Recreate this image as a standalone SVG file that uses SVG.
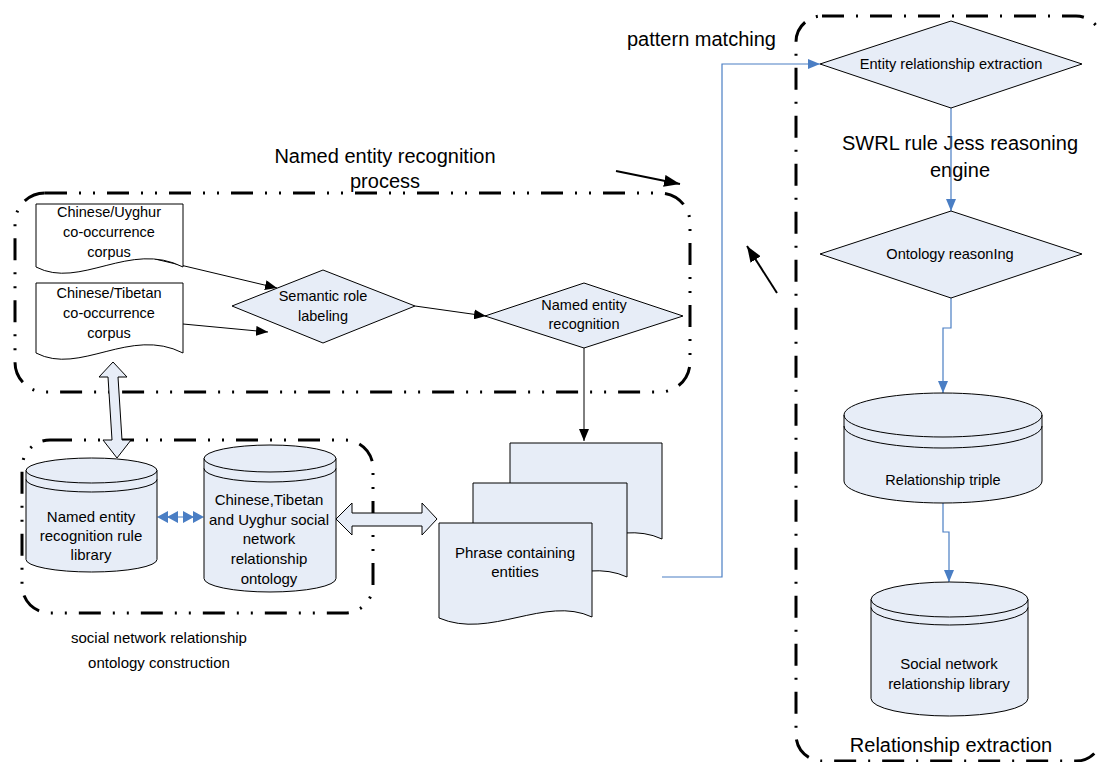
<svg xmlns="http://www.w3.org/2000/svg" width="1097" height="762" viewBox="0 0 1097 762">
  <defs>
    <style>
      text { font-family: "Liberation Sans", Arial, sans-serif; fill: #000; text-anchor: middle; }
      .n { font-size: 14.5px; }
      .t { font-size: 20px; }
      .shape { fill: #E7EDF7; stroke: #000; stroke-width: 1; }
      .paper { fill: #fff; stroke: #000; stroke-width: 1; }
      .line { fill: none; stroke: #000; stroke-width: 1; }
      .blue { fill: none; stroke: #4A7EC4; stroke-width: 1.2; }
      .grp2 { fill: none; stroke: #000; stroke-width: 3; stroke-dasharray: 22 12 2 12 2 12; }
      .grp1 { fill: none; stroke: #000; stroke-width: 3; stroke-dasharray: 22 12 2 12; }
    </style>
    <marker id="ah" viewBox="0 0 12 10" refX="12" refY="5" markerWidth="12" markerHeight="10" markerUnits="userSpaceOnUse" orient="auto">
      <path d="M0,0 L12,5 L0,10 Z" fill="#000"/>
    </marker>
    <marker id="ahb" viewBox="0 0 12 10" refX="12" refY="5" markerWidth="12" markerHeight="12" markerUnits="userSpaceOnUse" orient="auto">
      <path d="M0,0 L12,5 L0,10 Z" fill="#4A7EC4"/>
    </marker>
    <marker id="ahbig" viewBox="0 0 16 12" refX="16" refY="6" markerWidth="16" markerHeight="12" markerUnits="userSpaceOnUse" orient="auto">
      <path d="M0,0 L16,6 L0,12 Z" fill="#000"/>
    </marker>
  </defs>

  <!-- group frames -->
  <g id="frames">
    <rect x="15" y="193" width="675" height="199" rx="30" class="grp2"/>
    <rect x="22" y="440" width="351" height="173" rx="28" class="grp2"/>
    <rect x="796" y="16" width="306" height="745" rx="26" class="grp1"/>
  </g>

  <!-- titles -->
  <g id="labels">
    <text class="t" x="385" y="163">Named entity recognition</text>
    <text class="t" x="385" y="188">process</text>
    <text class="t" x="627" y="46" style="text-anchor:start">pattern matching</text>
    <text x="960" y="150" style="font-size:20px">SWRL rule Jess reasoning</text>
    <text x="960" y="177" style="font-size:20px">engine</text>
    <text x="159" y="643" style="font-size:15px">social network relationship</text>
    <text x="159" y="668" style="font-size:15px">ontology construction</text>
    <text x="951" y="752" style="font-size:20px">Relationship extraction</text>
  </g>

  <!-- connectors -->
  <g id="connectors">
    <line x1="155" y1="259" x2="277" y2="288" class="line" marker-end="url(#ah)"/>
    <line x1="183" y1="324" x2="268" y2="332" class="line" marker-end="url(#ah)"/>
    <line x1="415" y1="306" x2="486" y2="316" class="line" marker-end="url(#ah)"/>
    <line x1="584" y1="348" x2="584" y2="441" class="line" marker-end="url(#ah)"/>
    <polyline points="662,577 722,577 722,64 820,64" class="blue" marker-end="url(#ahb)"/>
    <line x1="951" y1="108" x2="951" y2="211" class="blue" marker-end="url(#ahb)"/>
    <polyline points="951,298 951,328 943,328 943,393" class="blue" marker-end="url(#ahb)"/>
    <polyline points="943,503 943,532 949,532 949,582" class="blue" marker-end="url(#ahb)"/>
    <!-- double blue link between rule library and ontology -->
    <line x1="160" y1="517" x2="202" y2="517" stroke="#4A7EC4" stroke-width="1.2"/>
    <path d="M157,517 L168,511 L168,523 Z M167,517 L178,511 L178,523 Z M204,517 L193,511 L193,523 Z M194,517 L183,511 L183,523 Z" fill="#4A7EC4"/>
    <!-- block double arrows -->
    <polygon points="113,362 127,377 118,377 122,440 131,440 117,458 103,440 112,440 108,377 99,377" class="shape"/>
    <polygon points="336,519 352,503 352,513 422,513 422,503 437,519 422,535 422,526 352,526 352,535" class="shape"/>
    <!-- free arrows -->
    <line x1="616" y1="171" x2="680" y2="184" stroke="#000" stroke-width="2" marker-end="url(#ahbig)"/>
    <line x1="777" y1="293" x2="747" y2="246" stroke="#000" stroke-width="2" marker-end="url(#ahbig)"/>
  </g>

  <!-- corpora -->
  <g id="corpus-uyghur">
    <path d="M36,204 H183 V267 C130,240 80,290 36,267 Z" class="paper"/>
    <text class="n" x="109" y="217">Chinese/Uyghur</text>
    <text class="n" x="109" y="237">co-occurrence</text>
    <text class="n" x="109" y="257">corpus</text>
  </g>
  <g id="corpus-tibetan">
    <path d="M36,283 H183 V353 C130,326 80,376 36,353 Z" class="paper"/>
    <text class="n" x="109" y="298">Chinese/Tibetan</text>
    <text class="n" x="109" y="318">co-occurrence</text>
    <text class="n" x="109" y="338">corpus</text>
  </g>

  <g id="semantic-role-labeling">
    <polygon points="232,306 323,270 415,306 323,343" class="shape"/>
    <text class="n" x="323" y="301">Semantic role</text>
    <text class="n" x="323" y="321">labeling</text>
  </g>

  <g id="named-entity-recognition">
    <polygon points="485,316 584,283 683,316 584,348" class="shape"/>
    <text class="n" x="584" y="310">Named entity</text>
    <text class="n" x="584" y="329">recognition</text>
  </g>

  <g id="phrases">
    <path d="M510,443 H662 V539 C615,517 561,562 510,539 Z" class="shape"/>
    <path d="M473,483 H627 V577 C580,555 525,600 473,578 Z" class="shape"/>
    <path d="M439,523 H592 V617 C545,595 490,640 439,618 Z" class="shape"/>
    <text x="515" y="558" style="font-size:15px">Phrase containing</text>
    <text x="515" y="577" style="font-size:15px">entities</text>
  </g>

  <g id="rule-library">
    <path d="M26,470.5 A65.5,12.5 0 0 1 157,470.5 V559.5 A65.5,12.5 0 0 1 26,559.5 Z" class="shape"/>
    <path d="M26,470.5 A65.5,12.5 0 0 0 157,470.5 M26,479.5 A65.5,12.5 0 0 0 157,479.5" class="line"/>
    <text x="91" y="522" style="font-size:15px">Named entity</text>
    <text x="91" y="541" style="font-size:15px">recognition rule</text>
    <text x="91" y="560" style="font-size:15px">library</text>
  </g>

  <g id="ontology">
    <path d="M204,458.5 A66,13.5 0 0 1 336,458.5 V578.5 A66,13.5 0 0 1 204,578.5 Z" class="shape"/>
    <path d="M204,458.5 A66,13.5 0 0 0 336,458.5 M204,468.5 A66,13.5 0 0 0 336,468.5" class="line"/>
    <text x="269" y="505" style="font-size:15px">Chinese,Tibetan</text>
    <text x="269" y="525" style="font-size:15px">and Uyghur social</text>
    <text x="269" y="544" style="font-size:15px">network</text>
    <text x="269" y="564" style="font-size:15px">relationship</text>
    <text x="269" y="584" style="font-size:15px">ontology</text>
  </g>

  <g id="entity-relationship-extraction">
    <polygon points="820,64 951,21 1082,64 951,108" class="shape"/>
    <text x="951" y="69" style="font-size:14.6px">Entity relationship extraction</text>
  </g>

  <g id="ontology-reasoning">
    <polygon points="820,254 951,211 1082,254 951,298" class="shape"/>
    <text x="950" y="259" style="font-size:14.6px">Ontology reasonIng</text>
  </g>

  <g id="relationship-triple">
    <path d="M844,415 A99,22 0 0 1 1042,415 V481 A99,22 0 0 1 844,481 Z" class="shape"/>
    <path d="M844,415 A99,22 0 0 0 1042,415 M844,426 A99,22 0 0 0 1042,426" class="line"/>
    <text x="943" y="485" style="font-size:14.5px">Relationship triple</text>
  </g>

  <g id="relationship-library">
    <path d="M871,599.5 A78.5,17.5 0 0 1 1028,599.5 V698.5 A78.5,17.5 0 0 1 871,698.5 Z" class="shape"/>
    <path d="M871,599.5 A78.5,17.5 0 0 0 1028,599.5 M871,607.5 A78.5,17.5 0 0 0 1028,607.5" class="line"/>
    <text x="949" y="669" style="font-size:15px">Social network</text>
    <text x="949" y="689" style="font-size:15px">relationship library</text>
  </g>
</svg>
